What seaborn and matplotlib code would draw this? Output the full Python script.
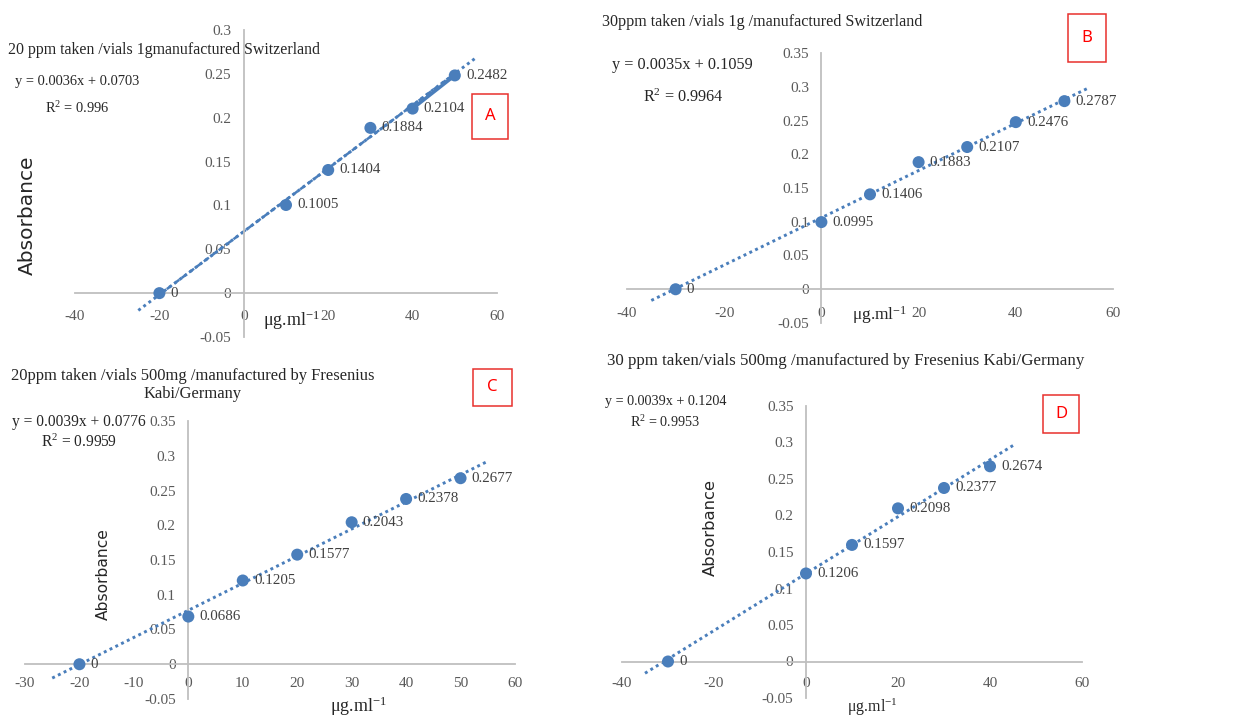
import numpy as np
import matplotlib
matplotlib.use("Agg")
import matplotlib.pyplot as plt
import seaborn as sns
from matplotlib.patches import Rectangle

# Panel A: 20 ppm, vials 1 g, Switzerland
a_x = [-20, 10, 20, 30, 40, 50]
a_y = [0, 0.1005, 0.1404, 0.1884, 0.2104, 0.2482]
a_slope, a_icpt, a_r2 = 0.0036, 0.0703, "0.996"

# Panel B: 30 ppm, vials 1 g, Switzerland
b_x = [-30, 0, 10, 20, 30, 40, 50]
b_y = [0, 0.0995, 0.1406, 0.1883, 0.2107, 0.2476, 0.2787]
b_slope, b_icpt, b_r2 = 0.0035, 0.1059, "0.9964"

# Panel C: 20 ppm, vials 500 mg, Fresenius Kabi
c_x = [-20, 0, 10, 20, 30, 40, 50]
c_y = [0, 0.0686, 0.1205, 0.1577, 0.2043, 0.2378, 0.2677]
c_slope, c_icpt, c_r2 = 0.0039, 0.0776, "0.9959"

# Panel D: 30 ppm, vials 500 mg, Fresenius Kabi
d_x = [-30, 0, 10, 20, 30, 40]
d_y = [0, 0.1206, 0.1597, 0.2098, 0.2377, 0.2674]
d_slope, d_icpt, d_r2 = 0.0039, 0.1204, "0.9953"

x_ticks_20 = [-40, -20, 0, 20, 40, 60]
x_ticks_10 = [-30, -20, -10, 0, 10, 20, 30, 40, 50, 60]
y_ticks_30 = [-0.05, 0, 0.05, 0.1, 0.15, 0.2, 0.25, 0.3]
y_ticks_35 = [-0.05, 0, 0.05, 0.1, 0.15, 0.2, 0.25, 0.3, 0.35]

sns.set_style("white")
plt.rcParams["font.family"] = ["Liberation Serif", "DejaVu Serif"]
plt.rcParams["mathtext.default"] = "regular"
plt.rcParams["axes.unicode_minus"] = False

W, H = 1239, 718
BLUE = "#4a7ebb"
GRID = "#bfbfbf"
fig = plt.figure(figsize=(W / 100, H / 100), dpi=100)


def ftext(x, y, s, **kw):
    return fig.text(x / W, 1 - y / H, s, **kw)


def panel(x0, x1, ytop, ybot, xs, ys, slope, icpt, xticks, yticks, xpad):
    ax = fig.add_axes([x0 / W, 1 - ybot / H, (x1 - x0) / W, (ybot - ytop) / H])
    ax.set_facecolor("none")
    ax.set_xlim(xticks[0], xticks[-1])
    ax.set_ylim(yticks[0], yticks[-1])
    for side in ["top", "right"]:
        ax.spines[side].set_visible(False)
    for side in ["left", "bottom"]:
        ax.spines[side].set_position(("data", 0))
        ax.spines[side].set_color(GRID)
        ax.spines[side].set_linewidth(1.3)
    ax.set_xticks(xticks)
    ax.set_xticklabels([f"{v:g}" for v in xticks])
    ax.set_yticks(yticks)
    ax.set_yticklabels([f"{v:g}" for v in yticks])
    ax.tick_params(axis="both", length=0, labelsize=11, labelcolor="#595959")
    ax.tick_params(axis="x", pad=xpad)
    ax.tick_params(axis="y", pad=9)

    tx = np.array([min(xs) - 5, max(xs) + 5])
    ax.plot(tx, slope * tx + icpt, color=BLUE, lw=2.1, linestyle=(0, (1, 1.2)),
            clip_on=False, zorder=2)
    sns.scatterplot(x=xs, y=ys, ax=ax, color=BLUE, s=75, edgecolor="none",
                    zorder=3, clip_on=False, legend=False)
    for xv, yv in zip(xs, ys):
        ax.annotate(f"{yv:g}", (xv, yv), xytext=(8, 0), textcoords="offset points",
                    ha="left", va="center", fontsize=10.8, color="#404040")
    ax.set_xlabel("")
    ax.set_ylabel("")
    return ax


def tag(x0, x1, y0, y1, letter):
    fig.patches.append(Rectangle((x0 / W, 1 - y1 / H), (x1 - x0) / W, (y1 - y0) / H,
                                 transform=fig.transFigure, fill=False,
                                 edgecolor="#e8302c", lw=1.1))
    ftext((x0 + x1) / 2, (y0 + y1) / 2, letter, ha="center", va="center",
          fontsize=12, color="#ff0000", family=["Noto Sans", "DejaVu Sans"])


# ---- A ----
ax_a = panel(75, 497, 30, 337, a_x, a_y, a_slope, a_icpt, x_ticks_20, y_ticks_30, 12)
fx = np.array([a_x[0], a_x[-1]])
ax_a.plot(fx, a_slope * fx + a_icpt, color=BLUE, lw=1.8, linestyle=(0, (2.5, 1.2)), zorder=2)
ax_a.plot(a_x[-2:], a_y[-2:], color=BLUE, lw=2.5, zorder=2)
ftext(8, 50, "20 ppm taken /vials 1gmanufactured Switzerland", ha="left", va="center",
      fontsize=11.4)
ftext(77, 82, f"y = {a_slope}x + {a_icpt}", ha="center", va="center", fontsize=10.4)
ftext(77, 108, f"R$^2$ = {a_r2}", ha="center", va="center", fontsize=10.4)
ftext(27, 215, "Absorbance", rotation=90, ha="center", va="center", fontsize=14.5,
      family=["DejaVu Sans"])
ftext(263, 320, "μg.ml$^{-1}$", ha="left", va="center", fontsize=13)
tag(472, 508, 94, 139, "A")

# ---- B ----
panel(627, 1113, 53, 323, b_x, b_y, b_slope, b_icpt, x_ticks_20, y_ticks_35, 13)
ftext(602, 22, "30ppm taken /vials 1g /manufactured Switzerland", ha="left", va="center",
      fontsize=11.6)
ftext(682, 65, f"y = {b_slope}x + {b_icpt}", ha="center", va="center", fontsize=11.7)
ftext(683, 97, f"R$^2$ = {b_r2}", ha="center", va="center", fontsize=11.7)
ftext(852, 315, "μg.ml$^{-1}$", ha="left", va="center", fontsize=12.5)
tag(1068, 1106, 14, 62, "B")

# ---- C ----
panel(25, 515, 421, 699, c_x, c_y, c_slope, c_icpt, x_ticks_10, y_ticks_35, 9)
ftext(193, 385, "20ppm taken /vials 500mg /manufactured by Fresenius\nKabi/Germany",
      ha="center", va="center", fontsize=11.9, linespacing=1.1)
ftext(79, 422, f"y = {c_slope}x + {c_icpt}", ha="center", va="center", fontsize=11.2)
ftext(79, 442, f"R$^2$ = {c_r2}", ha="center", va="center", fontsize=11.2)
ftext(103, 574, "Absorbance", rotation=90, ha="center", va="center", fontsize=11.2,
      family=["DejaVu Sans"])
ftext(330, 706, "μg.ml$^{-1}$", ha="left", va="center", fontsize=13)
tag(473, 512, 369, 406, "C")

# ---- D ----
panel(622, 1082, 406, 698, d_x, d_y, d_slope, d_icpt, x_ticks_20, y_ticks_35, 11)
ftext(607, 361, "30 ppm taken/vials 500mg /manufactured by Fresenius Kabi/Germany",
      ha="left", va="center", fontsize=12.2)
ftext(666, 401, f"y = {d_slope}x + {d_icpt}", ha="center", va="center", fontsize=10.2)
ftext(665, 422, f"R$^2$ = {d_r2}", ha="center", va="center", fontsize=10.2)
ftext(710, 528, "Absorbance", rotation=90, ha="center", va="center", fontsize=11.8,
      family=["DejaVu Sans"])
ftext(847, 707, "μg.ml$^{-1}$", ha="left", va="center", fontsize=11.5)
tag(1043, 1079, 395, 433, "D")

fig.savefig("out.png", dpi=100, facecolor="white")
